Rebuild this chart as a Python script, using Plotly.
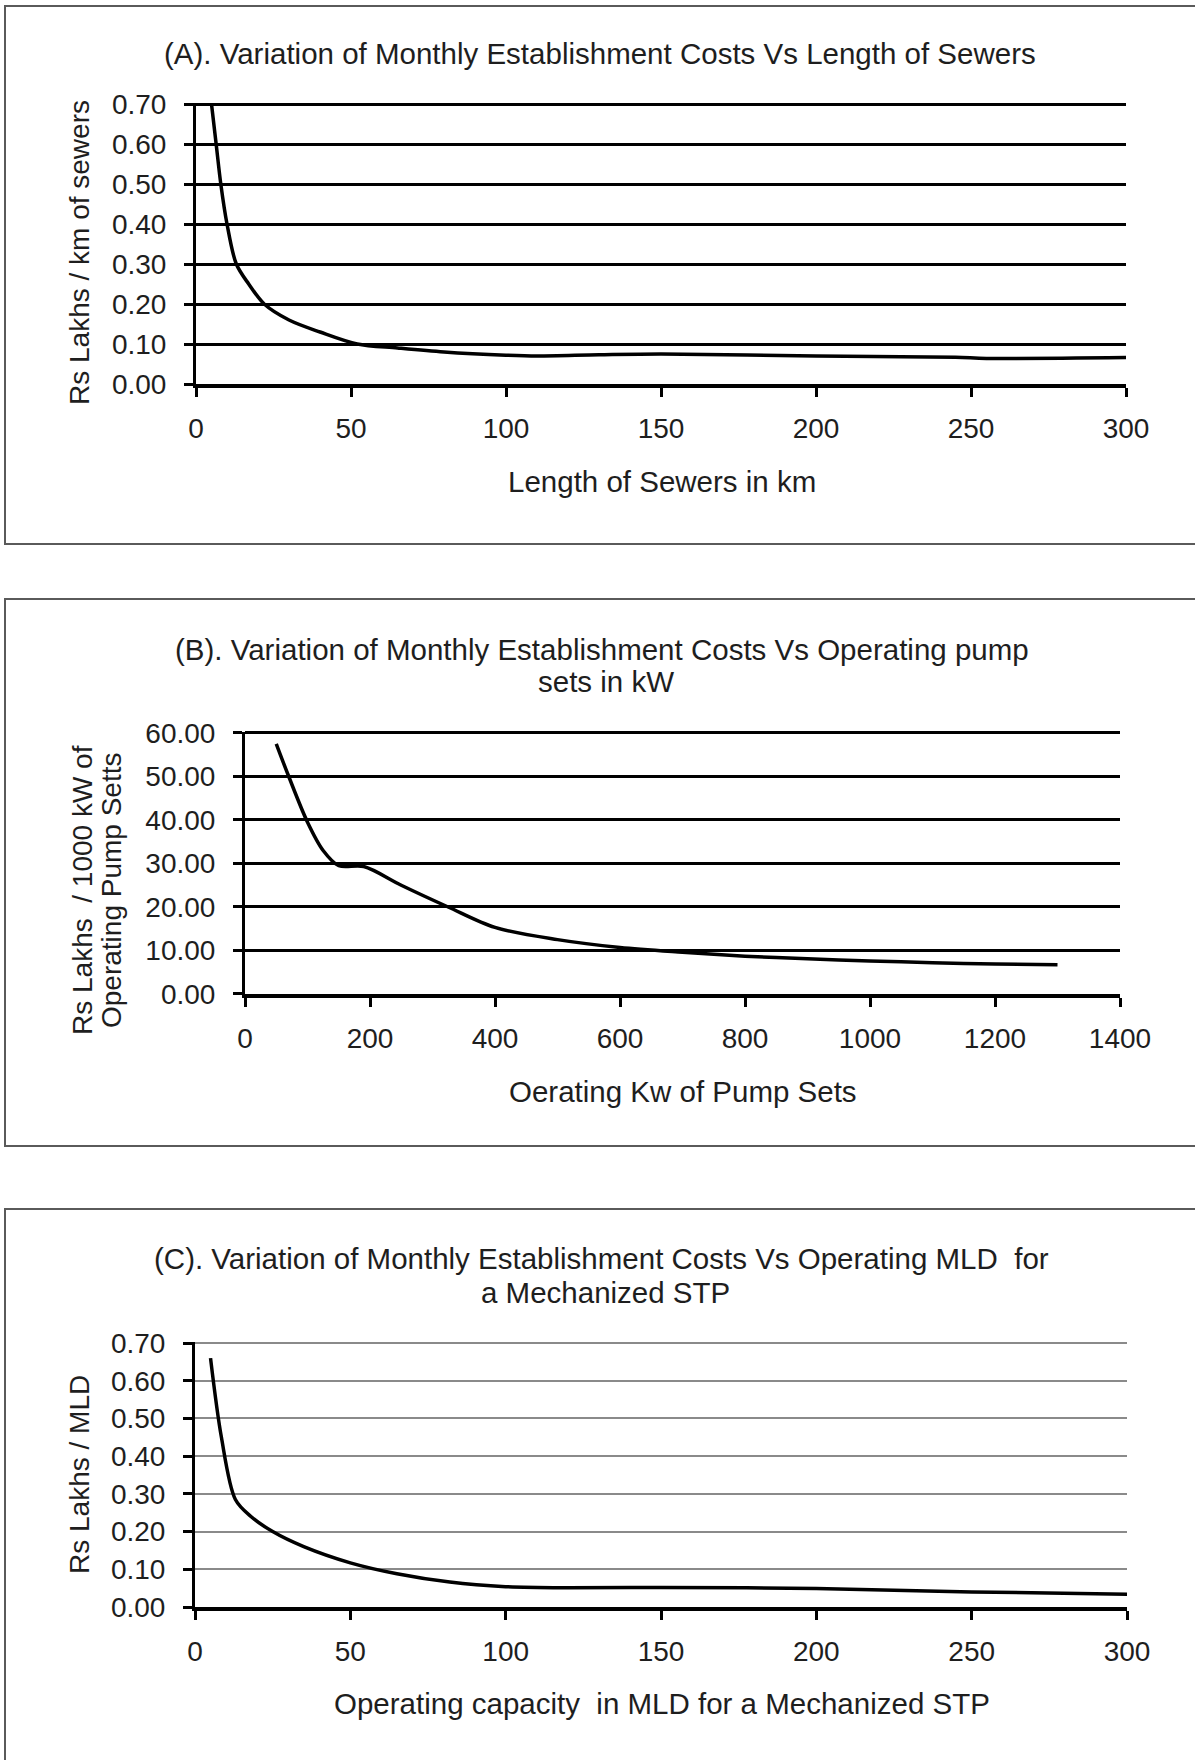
import plotly.graph_objects as go

# ---------------- data ----------------
a_x = [5, 6.5, 8, 10, 13, 17, 22, 30, 40, 52, 65, 80, 100, 110, 130, 150, 200, 245, 255, 300]
a_y = [0.70, 0.60, 0.50, 0.40, 0.30, 0.25, 0.20, 0.16, 0.13, 0.10, 0.09, 0.08, 0.072, 0.070, 0.073,
       0.075, 0.070, 0.067, 0.064, 0.066]

b_x = [50, 70, 100, 125, 150, 190, 250, 325, 400, 500, 600, 700, 800, 900, 1000, 1100, 1200, 1300]
b_y = [57.5, 50, 39.5, 33, 29.5, 29.3, 25, 20, 15.3, 12.5, 10.7, 9.6, 8.7, 8.1, 7.6, 7.2, 6.9, 6.7]

c_x = [5, 8.5, 13, 18, 25, 35, 50, 65, 82, 100, 120, 150, 200, 250, 300]
c_y = [0.66, 0.45, 0.285, 0.24, 0.20, 0.16, 0.117, 0.088, 0.066, 0.054, 0.051, 0.052, 0.049, 0.040, 0.034]

a_xticks = [0, 50, 100, 150, 200, 250, 300]
a_yticks = [0.0, 0.1, 0.2, 0.3, 0.4, 0.5, 0.6, 0.7]
b_xticks = [0, 200, 400, 600, 800, 1000, 1200, 1400]
b_yticks = [0, 10, 20, 30, 40, 50, 60]
c_xticks = [0, 50, 100, 150, 200, 250, 300]
c_yticks = [0.0, 0.1, 0.2, 0.3, 0.4, 0.5, 0.6, 0.7]

title_a = "(A). Variation of Monthly Establishment Costs Vs Length of Sewers"
title_b = ["(B). Variation of Monthly Establishment Costs Vs Operating pump", "sets in kW"]
title_c = ["(C). Variation of Monthly Establishment Costs Vs Operating MLD  for", "a Mechanized STP"]
xt_a = "Length of Sewers in km"
xt_b = "Oerating Kw of Pump Sets"
xt_c = "Operating capacity  in MLD for a Mechanized STP"
yt_a = "Rs Lakhs / km of sewers"
yt_b = ["Rs Lakhs  / 1000 kW of", "Operating Pump Setts"]
yt_c = "Rs Lakhs / MLD"

# ---------------- layout helpers ----------------
W, H = 1195, 1760
FONT = "Liberation Sans, Arial, sans-serif"
TXT = "#1e1e1e"
FS = 28
FT = 29.5


def fx(p):
    return p / W


def fy(p):
    return 1 - p / H


fig = go.Figure()
line_style = dict(color="black", width=3.5, shape="spline", smoothing=0.9)
fig.add_trace(go.Scatter(x=a_x, y=a_y, mode="lines", line=line_style, xaxis="x", yaxis="y",
                         showlegend=False, hoverinfo="skip"))
fig.add_trace(go.Scatter(x=b_x, y=b_y, mode="lines", line=line_style, xaxis="x2", yaxis="y2",
                         showlegend=False, hoverinfo="skip"))
fig.add_trace(go.Scatter(x=c_x, y=c_y, mode="lines", line=line_style, xaxis="x3", yaxis="y3",
                         showlegend=False, hoverinfo="skip"))


def xaxis(dom, anchor, rng, ticks):
    return dict(domain=dom, anchor=anchor, range=rng, tickvals=ticks, showgrid=False, zeroline=False,
                showline=True, linecolor="black", linewidth=4, ticks="outside", ticklen=9,
                tickwidth=3, tickcolor="black", tickfont=dict(family=FONT, size=FS, color=TXT),
                ticklabelstandoff=7, automargin=False, fixedrange=True)


def yaxis(dom, anchor, rng, ticks, fmt, gridcolor, gridwidth):
    return dict(domain=dom, anchor=anchor, range=rng, tickvals=ticks, tickformat=fmt,
                showgrid=True, gridcolor=gridcolor, gridwidth=gridwidth, zeroline=False,
                showline=True, linecolor="black", linewidth=3, ticks="outside", ticklen=9,
                tickwidth=3, tickcolor="black", tickfont=dict(family=FONT, size=FS, color=TXT),
                ticklabelstandoff=12, automargin=False, fixedrange=True)


# y ranges are extended by a hair so that the top gridline is drawn;
# domain tops are set so the top tick still lands on the reference pixel row
fig.update_layout(
    template="none",
    width=W, height=H, margin=dict(l=0, r=0, t=0, b=0, autoexpand=False),
    paper_bgcolor="white", plot_bgcolor="white",
    xaxis=xaxis([fx(196), fx(1126)], "y", [0, 300], a_xticks),
    yaxis=yaxis([fy(384), fy(384 - 0.703 * 400)], "x", [0, 0.703], a_yticks, ".2f", "black", 2.5),
    xaxis2=xaxis([fx(245), fx(1120)], "y2", [0, 1400], b_xticks),
    yaxis2=yaxis([fy(994), fy(994 - 60.3 * 4.35)], "x2", [0, 60.3], b_yticks, ".2f", "black", 2.5),
    xaxis3=xaxis([fx(195), fx(1127)], "y3", [0, 300], c_xticks),
    yaxis3=yaxis([fy(1607), fy(1607 - 0.703 * 377.14)], "x3", [0, 0.703], c_yticks, ".2f", "#8a8a8a", 2),
)

# panel frames (right / bottom edges run off the page as in the reference)
for top, bot in [(6, 544), (599, 1146), (1209, H + 20)]:
    fig.add_shape(type="rect", xref="paper", yref="paper", x0=fx(5), x1=fx(W + 20), y0=fy(bot), y1=fy(top),
                  line=dict(color="#5a5a5a", width=2), fillcolor="rgba(0,0,0,0)", layer="below")


def ann(text, x, y, angle=0, size=FT):
    fig.add_annotation(text=text, x=fx(x), y=fy(y), xref="paper", yref="paper", showarrow=False,
                       xanchor="center", yanchor="middle", textangle=angle,
                       font=dict(family=FONT, size=size, color=TXT))


# titles
ann(title_a, 600, 53)
ann(title_b[0], 602, 649)
ann(title_b[1], 606, 681)
ann(title_c[0], 601, 1258)
ann(title_c[1], 605, 1292)
# x axis titles
ann(xt_a, 662, 481)
ann(xt_b, 683, 1091)
ann(xt_c, 662, 1703)
# y axis titles
ann(yt_a, 79, 253, -90, FS)
ann(yt_b[0], 82, 890, -90, FS)
ann(yt_b[1], 111, 891, -90, FS)
ann(yt_c, 79, 1475, -90, FS)

# remove the default page margin so the figure sits at the window origin
fig.write_html("out.html", config={"displayModeBar": False},
               post_script="document.body.style.margin='0';")
